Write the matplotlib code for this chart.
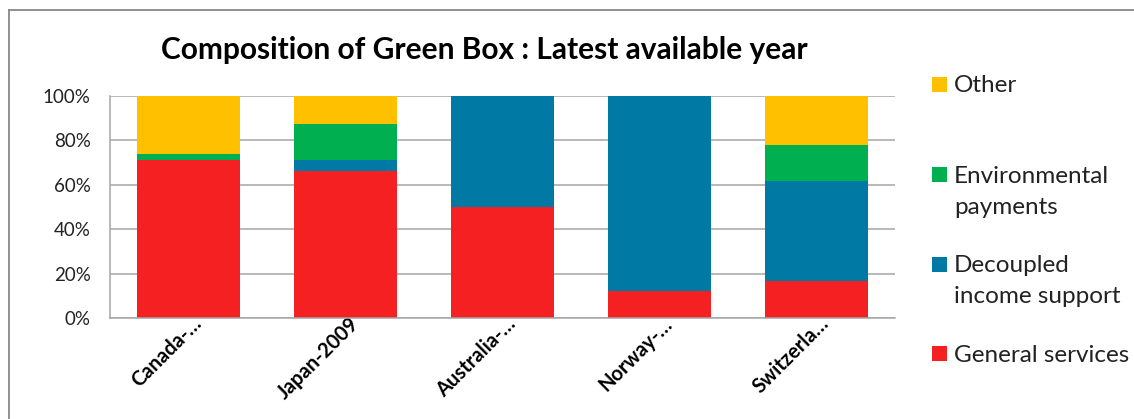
import matplotlib.pyplot as plt
from matplotlib.patches import Rectangle
from matplotlib.lines import Line2D
from matplotlib.transforms import ScaledTranslation
import numpy as np

# Green Box composition by country (% of total)
countries = ["Canada-…", "Japan-2009", "Australia-…", "Norway-…", "Switzerla…"]
general_services = [71.2, 66.0, 49.8, 12.2, 16.8]
decoupled_income = [0.0, 5.2, 50.2, 87.8, 45.1]
environmental = [2.8, 16.2, 0.0, 0.0, 16.2]
other = [26.0, 12.6, 0.0, 0.0, 21.9]

series_names = ["General services", "Decoupled\nincome support",
                "Environmental\npayments", "Other"]
series_values = [general_services, decoupled_income, environmental, other]
series_colors = ["#F52022", "#0179A5", "#00AF50", "#FFC000"]
y_ticks = [0, 20, 40, 60, 80, 100]

plt.rcParams['font.family'] = ['Lato', 'DejaVu Sans']

W, H = 1134, 419
fig = plt.figure(figsize=(W / 100, H / 100), dpi=100)
fig.patch.set_facecolor('white')

ax = fig.add_axes([110 / W, 1 - 318 / H, 785 / W, 222 / H])

x = np.arange(len(countries))
bottom = np.zeros(len(countries))
for vals, col in zip(series_values, series_colors):
    ax.bar(x, vals, width=0.65, bottom=bottom, color=col, zorder=2)
    bottom += np.array(vals)

ax.set_xlim(-0.5, len(countries) - 0.5)
ax.set_ylim(0, 100)
ax.set_yticks(y_ticks)
ax.set_yticklabels([f"{t}%" for t in y_ticks], fontsize=13.5, color='#222222')
ax.yaxis.grid(True, color='#A6A6A6', linewidth=1.1, zorder=0)
ax.set_axisbelow(True)
ax.tick_params(axis='y', length=0, pad=14)
ax.tick_params(axis='x', length=0, pad=5)

ax.set_xticks(x)
ax.set_xticklabels(countries, rotation=45, ha='right', va='baseline',
                   rotation_mode='anchor', fontsize=14.5, fontweight='bold')
# nudge rotated labels to the right of each bar centre
shift = ScaledTranslation(14 / 100, 0, fig.dpi_scale_trans)
for lab in ax.get_xticklabels():
    lab.set_transform(lab.get_transform() + shift)

for side in ['top', 'right']:
    ax.spines[side].set_visible(False)
for side in ['left', 'bottom']:
    ax.spines[side].set_color('#A6A6A6')
    ax.spines[side].set_linewidth(1.1)

fig.text(484 / W, 1 - 50 / H, "Composition of Green Box : Latest available year",
         ha='center', va='center', fontsize=21.5, fontweight='bold')

# legend laid out in fixed slots, top entry first; y = first-line baseline
slot_baselines = [92.5, 182.5, 272, 361.5]
line_step = 31
for name, col, yb in zip(series_names[::-1], series_colors[::-1], slot_baselines):
    fig.add_artist(Rectangle((932 / W, 1 - (yb - 0.5) / H), 15 / W, 15 / H,
                             transform=fig.transFigure, facecolor=col,
                             edgecolor='none'))
    for k, line in enumerate(name.split("\n")):
        fig.text(954 / W, 1 - (yb + k * line_step) / H, line, ha='left',
                 va='baseline', fontsize=17.5, color='#222222')

# outer chart frame (cropped on the right and bottom)
fig.add_artist(Line2D([9 / W, 9 / W], [0, 1 - 10 / H], transform=fig.transFigure,
                      color='#888888', linewidth=1.3))
fig.add_artist(Line2D([9 / W, 1], [1 - 10 / H, 1 - 10 / H], transform=fig.transFigure,
                      color='#888888', linewidth=1.3))

fig.savefig('out.png', dpi=100, facecolor='white')
